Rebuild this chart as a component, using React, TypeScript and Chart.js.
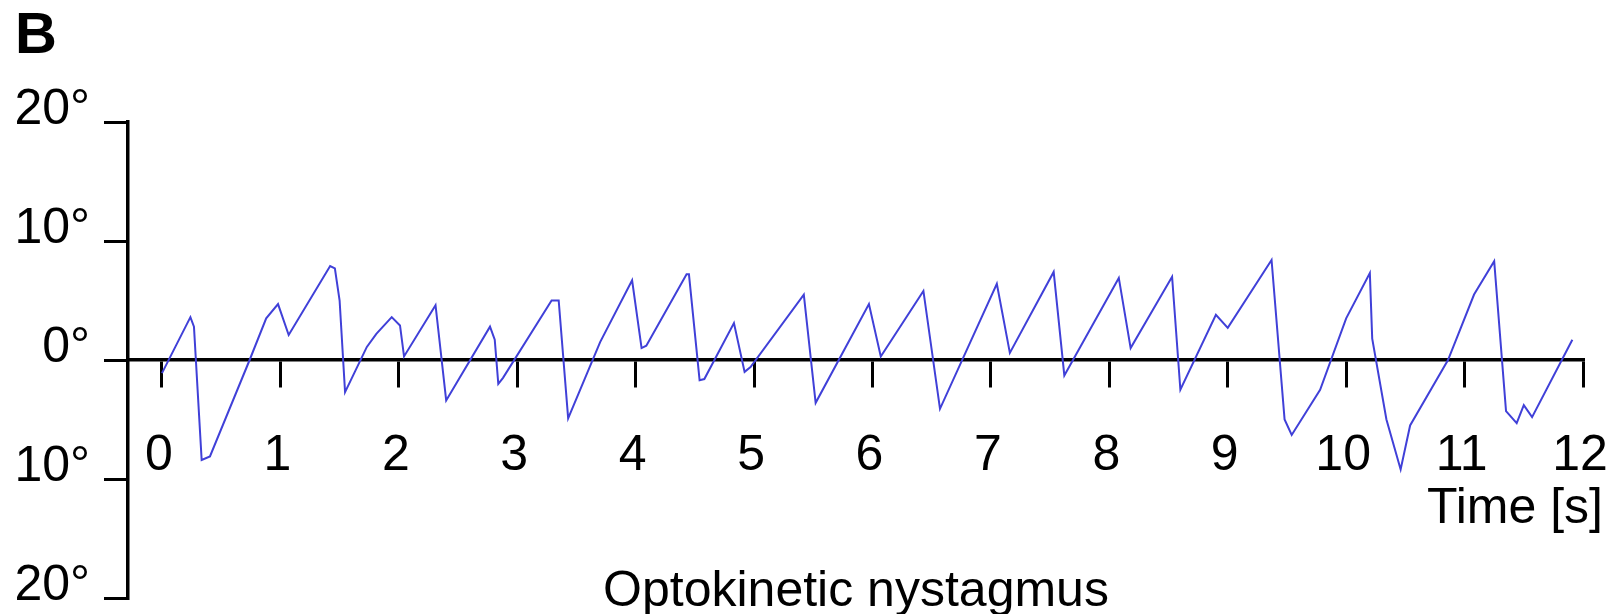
import React, { useEffect, useRef } from "react";
import { Chart, registerables } from "chart.js";

Chart.register(...registerables);

// ---- data ----
const times = [
  0.0, 0.24, 0.27, 0.335, 0.405, 0.74, 0.88, 0.98, 1.07, 1.42, 1.46, 1.5, 1.546,
  1.73, 1.81, 1.94, 2.01, 2.044, 2.31, 2.4, 2.77, 2.81, 2.84, 2.88, 3.29, 3.35,
  3.43, 3.7, 3.97, 4.05, 4.09, 4.43, 4.45, 4.54, 4.58, 4.83, 4.92, 4.97, 5.42,
  5.52, 5.97, 6.07, 6.43, 6.57, 7.05, 7.16, 7.53, 7.62, 8.08, 8.18, 8.53, 8.6,
  8.9, 9.0, 9.37, 9.48, 9.54, 9.78, 10.0, 10.2, 10.22, 10.34, 10.46, 10.54,
  10.86, 11.08, 11.25, 11.35, 11.44, 11.5, 11.57, 11.91,
];
const eyePosition = [
  -1.1, 3.6, 2.8, -8.4, -8.1, 0.0, 3.5, 4.7, 2.1, 7.9, 7.7, 5.0, -2.7,
  1.1, 2.2, 3.6, 2.9, 0.3, 4.6, -3.4, 2.8, 1.7, -2.0, -1.5, 5.0, 5.0,
  -4.9, 1.5, 6.7, 1.0, 1.2, 7.2, 7.2, -1.7, -1.6, 3.1, -1.0, -0.6, 5.5,
  -3.6, 4.7, 0.3, 5.8, -4.1, 6.4, 0.6, 7.4, -1.3, 6.9, 1.0, 7.0, -2.5,
  3.8, 2.7, 8.4, -5.0, -6.3, -2.5, 3.5, 7.3, 1.8, -5.0, -9.2, -5.5,
  0.0, 5.5, 8.3, -4.3, -5.3, -3.8, -4.8, 1.7,
];
const xTicks = [0, 1, 2, 3, 4, 5, 6, 7, 8, 9, 10, 11, 12];
const yTicks = [20, 10, 0, -10, -20];
const yTickLabels = ["20°", "10°", "0°", "10°", "20°"];
const panelLabel = "B";
const xAxisTitle = "Time [s]";
const chartTitle = "Optokinetic nystagmus";

const FONT = '"Liberation Sans", Arial, sans-serif';

export default function App() {
  const canvasRef = useRef<HTMLCanvasElement | null>(null);

  useEffect(() => {
    const canvas = canvasRef.current;
    if (!canvas) return;

    const textPlugin = {
      id: "extraText",
      afterDraw(chart: any) {
        const ctx = chart.ctx;
        ctx.save();
        ctx.fillStyle = "#000";
        ctx.textBaseline = "alphabetic";
        ctx.font = `bold 58px ${FONT}`;
        ctx.textAlign = "left";
        ctx.fillText(panelLabel, 15, 53);
        ctx.font = `50px ${FONT}`;
        ctx.textAlign = "right";
        ctx.fillText(xAxisTitle, 1603, 523);
        ctx.font = `50px ${FONT}`;
        ctx.textAlign = "center";
        ctx.fillText(chartTitle, 856, 606);
        ctx.restore();
      },
    };

    const chart = new Chart(canvas, {
      type: "line",
      data: {
        datasets: [
          {
            data: times.map((t, i) => ({ x: t, y: eyePosition[i] })),
            borderColor: "#4040d8",
            borderWidth: 2,
            pointRadius: 0,
            tension: 0,
            fill: false,
          },
        ],
      },
      options: {
        animation: false,
        responsive: false,
        events: [],
        layout: { padding: { left: 0, right: 39, top: 122, bottom: 16 } },
        plugins: {
          legend: { display: false },
          title: { display: false },
          tooltip: { enabled: false },
        },
        scales: {
          x: {
            type: "linear",
            position: { y: 0 } as any,
            min: -0.287,
            max: 12,
            afterBuildTicks: (axis: any) => {
              axis.ticks = xTicks.map((v) => ({ value: v }));
            },
            afterFit: (scale: any) => {
              scale.paddingLeft = 0;
              scale.paddingRight = 0;
            },
            border: { display: true, color: "#000", width: 3.5 },
            grid: {
              drawOnChartArea: false,
              drawTicks: true,
              tickLength: 26,
              tickWidth: 3,
              tickColor: "#000",
              color: "#000",
              lineWidth: 3,
            },
            ticks: {
              autoSkip: false,
              maxRotation: 0,
              color: "#000",
              padding: 40,
              labelOffset: -3,
              font: { family: FONT, size: 50 },
              callback: (v: any) => String(v),
            },
          },
          y: {
            type: "linear",
            position: "left",
            min: -20,
            max: 20,
            afterBuildTicks: (axis: any) => {
              axis.ticks = yTicks.map((v) => ({ value: v }));
            },
            afterFit: (scale: any) => {
              scale.width = 128;
              scale.paddingTop = 0;
              scale.paddingBottom = 0;
            },
            border: { display: true, color: "#000", width: 3.5 },
            grid: {
              drawOnChartArea: false,
              drawTicks: true,
              tickLength: 24,
              tickWidth: 3,
              tickColor: "#000",
              color: "#000",
              lineWidth: 3,
            },
            ticks: {
              color: "#000",
              padding: 14,
              labelOffset: -12,
              font: { family: FONT, size: 50 },
              callback: (v: any) => {
                const idx = yTicks.indexOf(Number(v));
                return idx >= 0 ? yTickLabels[idx] : "";
              },
            },
          },
        },
      },
      plugins: [textPlugin],
    });

    return () => chart.destroy();
  }, []);

  return (
    <div
      style={{
        position: "absolute",
        left: 0,
        top: 0,
        width: 1622,
        height: 614,
        background: "#fff",
      }}
    >
      <canvas
        ref={canvasRef}
        width={1622}
        height={614}
        style={{ display: "block", width: 1622, height: 614 }}
      />
    </div>
  );
}
